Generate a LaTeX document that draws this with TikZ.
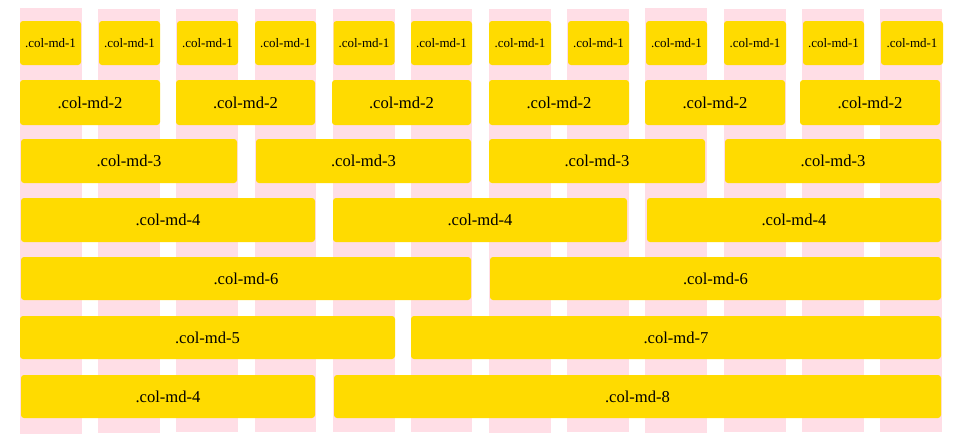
\documentclass[tikz,border=0pt]{standalone}
\usepackage{fontspec}
\setmainfont{Liberation Serif}
\definecolor{gridpink}{RGB}{255,222,230}
\definecolor{cellyellow}{RGB}{255,219,0}

\begin{document}
\begin{tikzpicture}[x=1pt,y=-1pt,
    cell/.style={rectangle, fill=cellyellow, rounded corners=3pt, inner sep=0pt,
                 minimum height=44pt, font=\fontsize{16.6}{20}\selectfont},
    small/.style={cell, font=\fontsize{13}{16}\selectfont}]
      \useasboundingbox (0,0) rectangle (966,447);

      % the twelve columns
      \fill[gridpink] (20,8) rectangle (82,434);
      \fill[gridpink] (98,9) rectangle (160,433);
      \fill[gridpink] (176,9) rectangle (238,432);
      \fill[gridpink] (255,9) rectangle (316,432);
      \fill[gridpink] (333,9) rectangle (395,432);
      \fill[gridpink] (411,9) rectangle (472,432);
      \fill[gridpink] (489,9) rectangle (551,433);
      \fill[gridpink] (567,9) rectangle (629,432);
      \fill[gridpink] (645,8) rectangle (707,433);
      \fill[gridpink] (724,9) rectangle (786,432);
      \fill[gridpink] (802,9) rectangle (864,432);
      \fill[gridpink] (880,9) rectangle (942,432);

      \node at(50.5,43) [small, minimum width=61pt] (one-a) {.col-md-1};
      \node at(129.5,43) [small, minimum width=61pt] (one-b) {.col-md-1};
      \node at(207.5,43) [small, minimum width=61pt] (one-c) {.col-md-1};
      \node at(285.5,43) [small, minimum width=61pt] (one-d) {.col-md-1};
      \node at(364,43) [small, minimum width=61pt] (one-e) {.col-md-1};
      \node at(441.5,43) [small, minimum width=61pt] (one-f) {.col-md-1};
      \node at(520,43) [small, minimum width=62pt] (one-g) {.col-md-1};
      \node at(598.5,43) [small, minimum width=61pt] (one-h) {.col-md-1};
      \node at(676.5,43) [small, minimum width=61pt] (one-i) {.col-md-1};
      \node at(755,43) [small, minimum width=62pt] (one-j) {.col-md-1};
      \node at(833.5,43) [small, minimum width=61pt] (one-k) {.col-md-1};
      \node at(912,43) [small, minimum width=62pt] (one-l) {.col-md-1};

      \node at(90,102.5) [cell, minimum width=140pt, minimum height=45pt] (two-a) {.col-md-2};
      \node at(245.5,102.5) [cell, minimum width=139pt, minimum height=45pt] (two-b) {.col-md-2};
      \node at(401.5,102.5) [cell, minimum width=139pt, minimum height=45pt] (two-c) {.col-md-2};
      \node at(559,102.5) [cell, minimum width=140pt, minimum height=45pt] (two-d) {.col-md-2};
      \node at(715,102.5) [cell, minimum width=140pt, minimum height=45pt] (two-e) {.col-md-2};
      \node at(870,102.5) [cell, minimum width=140pt, minimum height=45pt] (two-f) {.col-md-2};

      \node at(129,161) [cell, minimum width=216pt] (three-a) {.col-md-3};
      \node at(363.5,161) [cell, minimum width=215pt] (three-b) {.col-md-3};
      \node at(597,161) [cell, minimum width=216pt] (three-c) {.col-md-3};
      \node at(833,161) [cell, minimum width=216pt] (three-d) {.col-md-3};

      \node at(168,220) [cell, minimum width=294pt] (four-a) {.col-md-4};
      \node at(480,220) [cell, minimum width=294pt] (four-b) {.col-md-4};
      \node at(794,220) [cell, minimum width=294pt] (four-c) {.col-md-4};

      \node at(246,278.5) [cell, minimum width=450pt, minimum height=43pt] (six-a) {.col-md-6};
      \node at(715.5,278.5) [cell, minimum width=451pt, minimum height=43pt] (six-b) {.col-md-6};

      \node at(207.5,337.5) [cell, minimum width=375pt, minimum height=43pt] (five) {.col-md-5};
      \node at(676,337.5) [cell, minimum width=530pt, minimum height=43pt] (seven) {.col-md-7};

      \node at(168,396.5) [cell, minimum width=294pt, minimum height=43pt] (four-d) {.col-md-4};
      \node at(637.5,396.5) [cell, minimum width=607pt, minimum height=43pt] (eight) {.col-md-8};

    \end{tikzpicture}
\end{document}
